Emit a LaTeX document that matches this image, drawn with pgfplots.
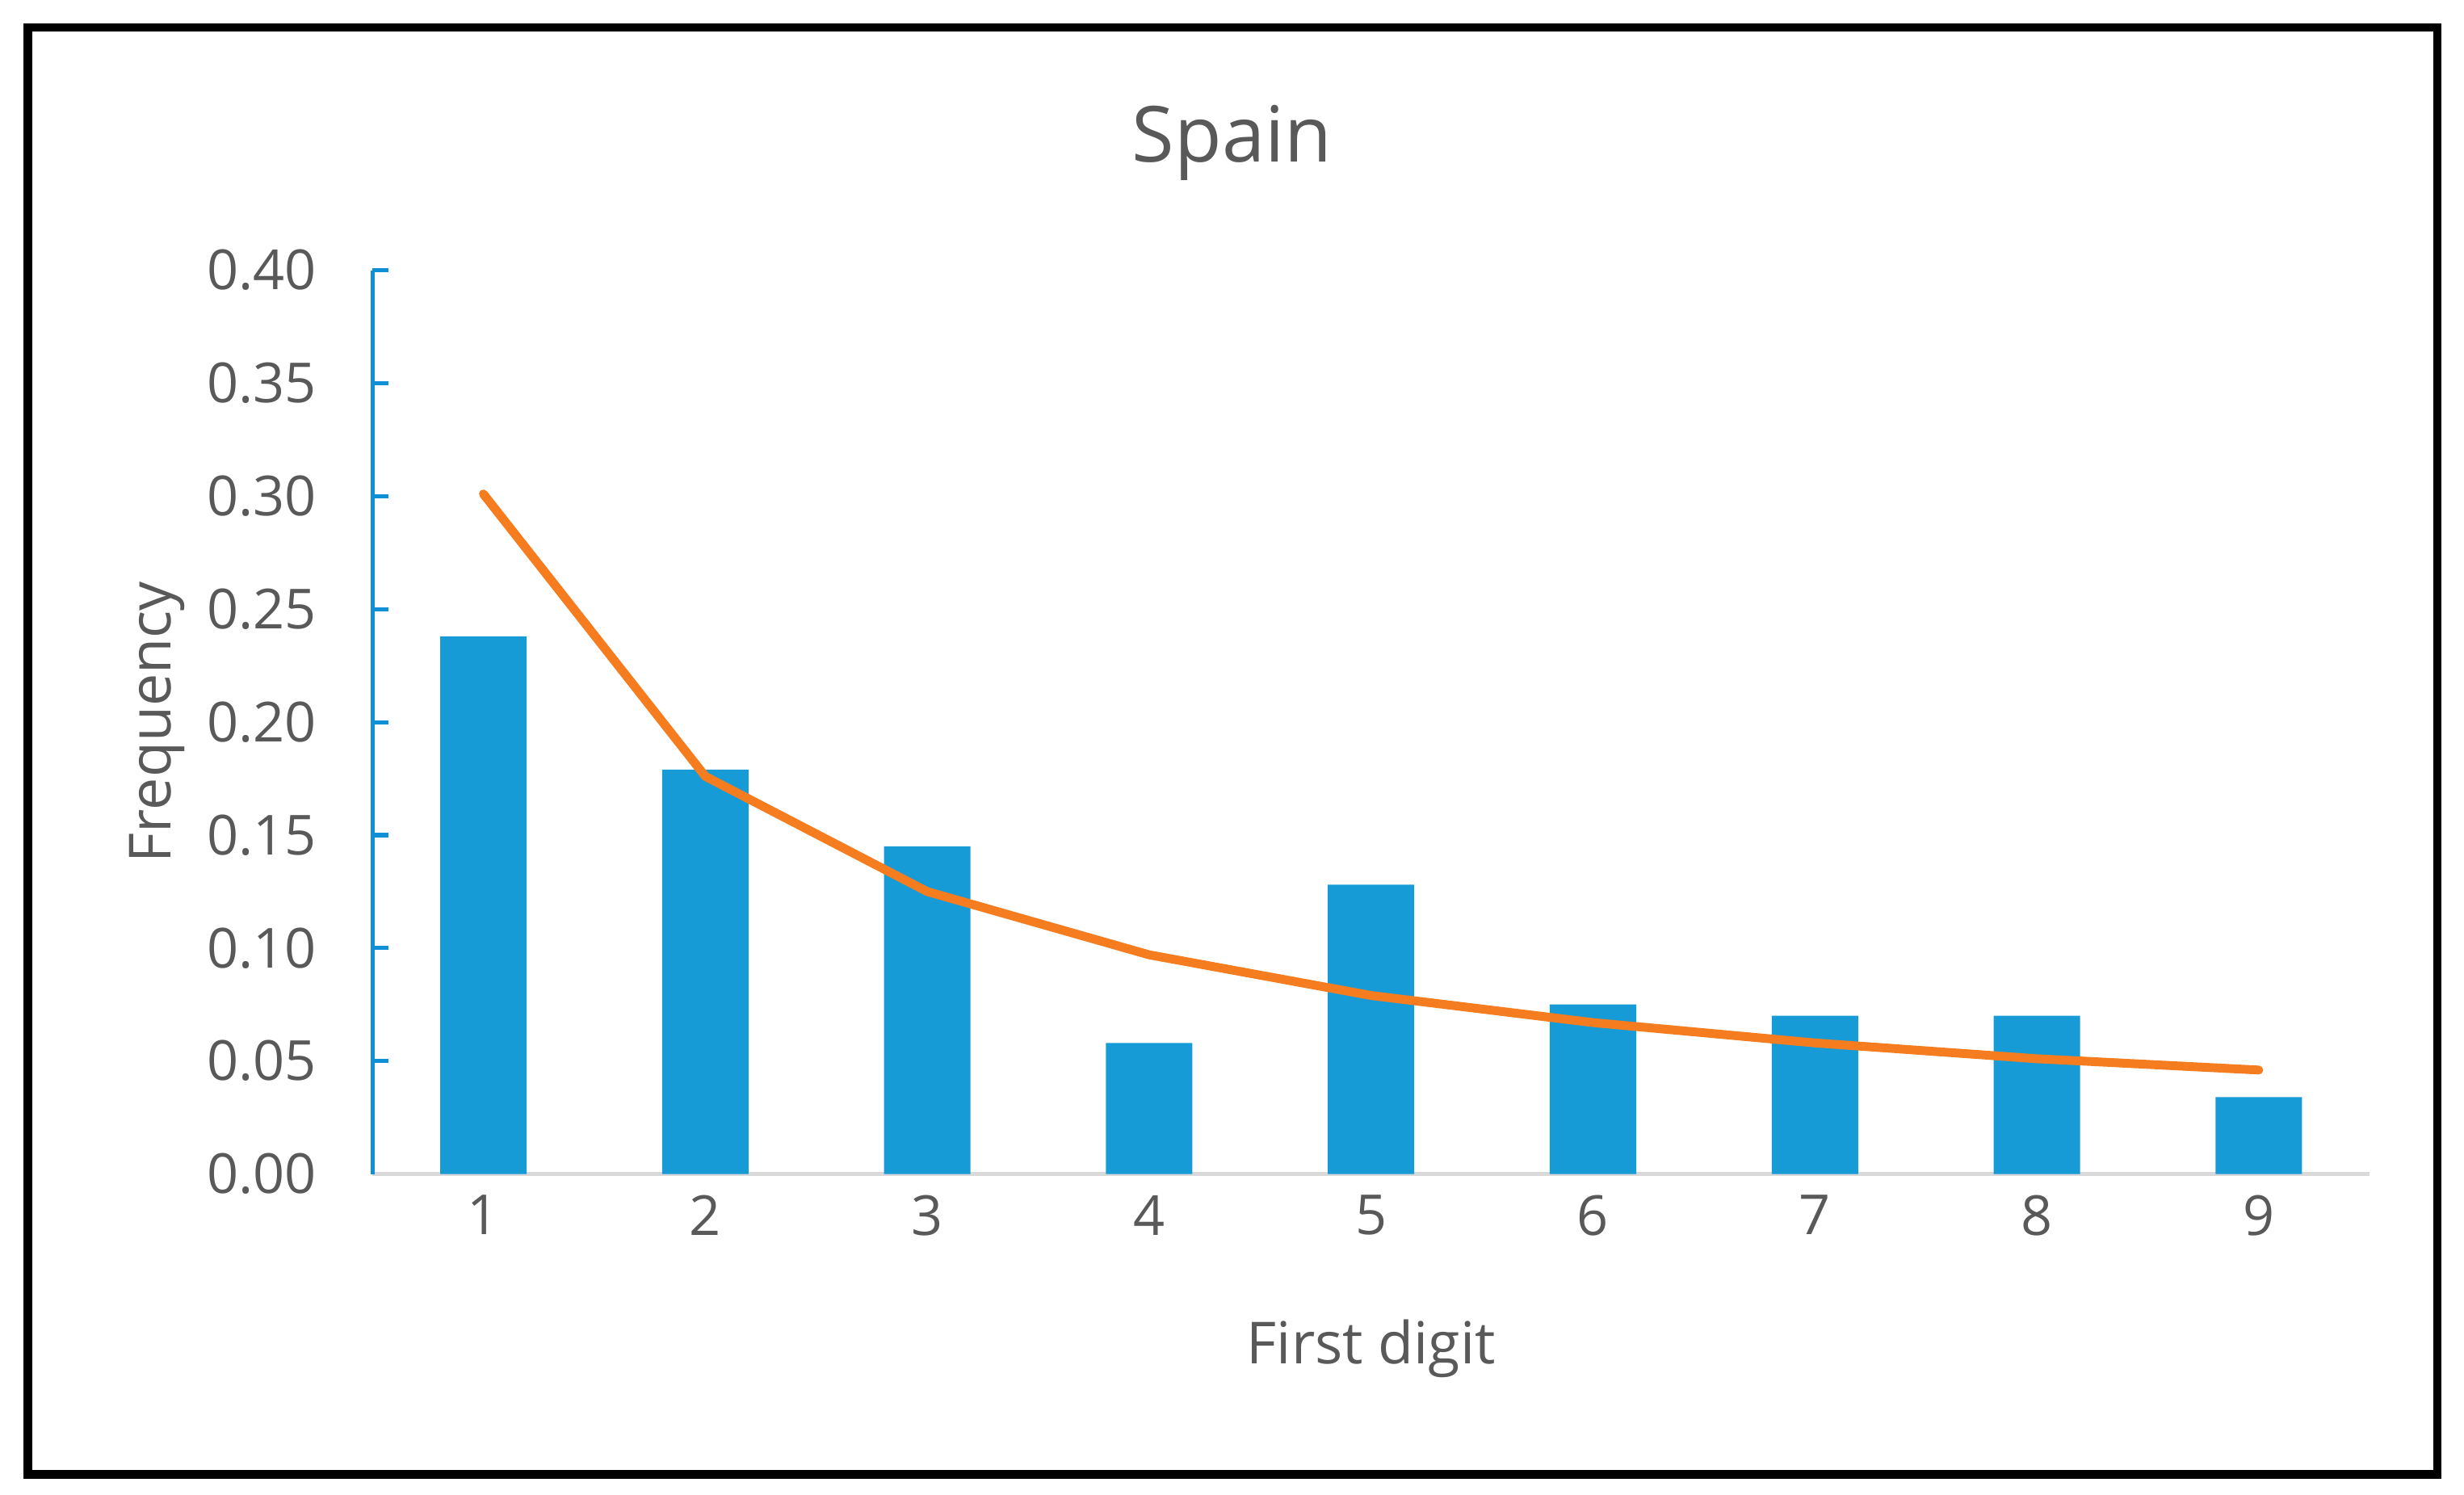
\documentclass[border=0pt]{standalone}
\usepackage{pgfplots}
\pgfplotsset{compat=1.18}
\usepackage{fontspec}
\setmainfont{Open Sans}
\definecolor{txtgray}{HTML}{595959}
\definecolor{barblue}{HTML}{179BD7}
\definecolor{axblue}{HTML}{0F8FD6}
\definecolor{lineorange}{HTML}{F57C1F}
\definecolor{axgray}{HTML}{D9D9D9}
\begin{document}
\begin{tikzpicture}
\begin{axis}[
  at={(2.37cm,-7.47cm)}, anchor=south west,
  width=12.71cm, height=5.75cm, scale only axis,
  xmin=0.5, xmax=9.5, ymin=0, ymax=0.40,
  axis lines*=left,
  x axis line style={draw=axgray, line width=0.8pt},
  y axis line style={draw=axblue, line width=0.75pt},
  xtick={1,2,3,4,5,6,7,8,9},
  ytick={0,0.05,0.10,0.15,0.20,0.25,0.30,0.35,0.40},
  major x tick style={draw=none},
  major y tick style={draw=axblue, line width=0.75pt},
  tick align=inside, major tick length=1mm,
  /pgf/number format/assume math mode=true,
  yticklabel style={/pgf/number format/fixed, /pgf/number format/fixed zerofill, /pgf/number format/precision=2},
  y tick label style={inner sep=0pt, anchor=east, xshift=-3.5mm, text=txtgray, font=\fontsize{10}{12}\selectfont},
  x tick label style={inner sep=0pt, anchor=north, yshift=-1.3mm, text=txtgray, font=\fontsize{10}{12}\selectfont},
  xlabel={First digit},
  ylabel={Frequency},
  xlabel style={at={(axis description cs:0.5,0)}, anchor=center, yshift=-1.11cm, text=txtgray, font=\fontsize{10.5}{12}\selectfont},
  ylabel style={at={(axis description cs:0,0.5)}, anchor=center, yshift=1.37cm, text=txtgray, font=\fontsize{10.5}{12}\selectfont},
  clip=false,
]
\addplot[ybar, bar width=0.55cm, bar shift=0pt, fill=barblue, draw=none] coordinates {
  (1,0.238) (2,0.179) (3,0.145) (4,0.058) (5,0.128) (6,0.075) (7,0.070) (8,0.070) (9,0.034)
};
\addplot[sharp plot, no markers, draw=lineorange, line width=1.6pt, line cap=round, line join=round] coordinates {
  (1,0.301) (2,0.176) (3,0.125) (4,0.097) (5,0.079) (6,0.067) (7,0.058) (8,0.051) (9,0.046)
};
\end{axis}
\node[text=txtgray, font=\fontsize{14}{16}\selectfont, anchor=center] at (7.84cm,-0.91cm) {Spain};
\draw[line width=1.6pt, black] (0.175cm,-0.175cm) rectangle (15.51cm,-9.38cm);
\pgfresetboundingbox
\path[use as bounding box] (0,0) rectangle (15.68cm,-9.51cm);
\end{tikzpicture}
\end{document}
